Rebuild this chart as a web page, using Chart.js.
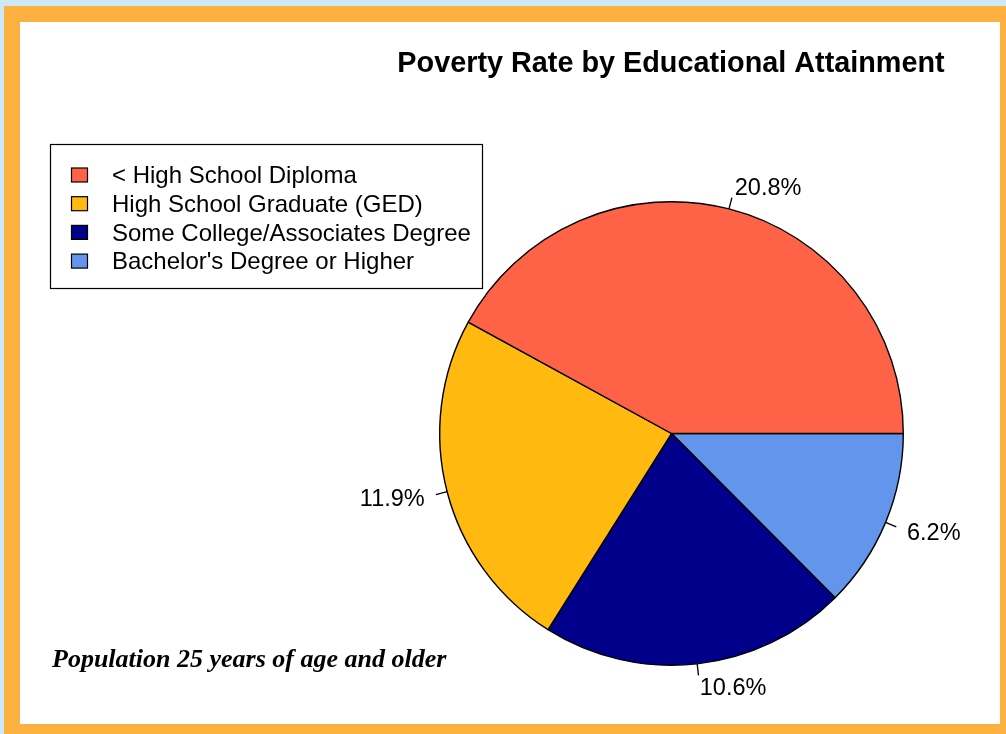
<!DOCTYPE html>
<html>
<head>
<meta charset="utf-8">
<title>Poverty Rate by Educational Attainment</title>
<script src="https://cdn.jsdelivr.net/npm/chart.js@4.4.1/dist/chart.umd.min.js"></script>
<style>
  html, body {
    margin: 0;
    padding: 0;
    background: #cde9f9;
    width: 1006px;
    height: 734px;
    overflow: hidden;
  }
  #frame {
    position: absolute;
    left: 4px;
    top: 6px;
    width: 1002px;
    height: 728px;
    background: #fbb040;
  }
  #panel {
    position: absolute;
    left: 16px;
    top: 16px;
    width: 980px;
    height: 702px;
    background: #ffffff;
  }
</style>
</head>
<body>
<div id="frame">
  <div id="panel">
    <canvas id="povertyChart" width="980" height="702"></canvas>
  </div>
</div>
<script>
const categories = [
  "< High School Diploma",
  "High School Graduate (GED)",
  "Some College/Associates Degree",
  "Bachelor's Degree or Higher",
];
const povertyRates = [20.8, 11.9, 10.6, 6.2];
const sliceColors = ["#ff6347", "#ffb90f", "#00008b", "#6495ed"];

const chartTitle = "Poverty Rate by Educational Attainment";
const footnote = "Population 25 years of age and older";

// slices run counter-clockwise from 3 o'clock, so feed them to chart.js reversed
const drawOrder = povertyRates.map((_, i) => povertyRates.length - 1 - i);

const sansFont = "'Liberation Sans', Arial, Helvetica, sans-serif";
const serifFont = "'Liberation Serif', 'Times New Roman', serif";

// percent labels outside the pie with a short tick
const sliceLabels = {
  id: "sliceLabels",
  afterDatasetsDraw(chart) {
    const ctx = chart.ctx;
    const arcs = chart.getDatasetMeta(0).data;
    ctx.save();
    ctx.font = "23.5px " + sansFont;
    ctx.fillStyle = "#000";
    ctx.strokeStyle = "#000";
    ctx.lineWidth = 1.3;
    ctx.textBaseline = "middle";
    arcs.forEach((arc, i) => {
      const { x, y, startAngle, endAngle, outerRadius } = arc.getProps(
        ["x", "y", "startAngle", "endAngle", "outerRadius"],
        true
      );
      const mid = (startAngle + endAngle) / 2;
      const cos = Math.cos(mid),
        sin = Math.sin(mid);
      ctx.beginPath();
      ctx.moveTo(x + cos * outerRadius, y + sin * outerRadius);
      ctx.lineTo(x + cos * outerRadius * 1.05, y + sin * outerRadius * 1.05);
      ctx.stroke();
      ctx.textAlign = cos < 0 ? "right" : "left";
      const value = chart.data.datasets[0].data[i];
      ctx.fillText(
        value.toFixed(1) + "%",
        x + cos * outerRadius * 1.1,
        y + sin * outerRadius * 1.1 + 2
      );
    });
    ctx.restore();
  },
};

// boxed legend in the top left corner, title and footnote
const decorations = {
  id: "decorations",
  afterDraw(chart) {
    const ctx = chart.ctx;
    ctx.save();

    ctx.fillStyle = "#000";
    ctx.font = "bold 28.8px " + sansFont;
    ctx.textAlign = "center";
    ctx.textBaseline = "middle";
    ctx.fillText(chartTitle, 651, 42);

    ctx.font = "bold italic 26px " + serifFont;
    ctx.textAlign = "left";
    ctx.fillText(footnote, 32, 638);

    ctx.lineWidth = 1.2;
    ctx.strokeStyle = "#000";
    ctx.strokeRect(30.5, 122.5, 432, 144);

    ctx.font = "24px " + sansFont;
    categories.forEach((name, i) => {
      const rowY = 153 + i * 28.7;
      ctx.fillStyle = sliceColors[i];
      ctx.fillRect(51.5, rowY - 7, 16, 14);
      ctx.strokeRect(51.5, rowY - 7, 16, 14);
      ctx.fillStyle = "#000";
      ctx.fillText(name, 92, rowY + 1.5);
    });

    ctx.restore();
  },
};

new Chart(document.getElementById("povertyChart"), {
  type: "pie",
  data: {
    labels: drawOrder.map((i) => categories[i]),
    datasets: [
      {
        data: drawOrder.map((i) => povertyRates[i]),
        backgroundColor: drawOrder.map((i) => sliceColors[i]),
        borderColor: "#000",
        borderWidth: 1.4,
        hoverOffset: 0,
        hoverBorderWidth: 1.4,
      },
    ],
  },
  options: {
    responsive: false,
    animation: false,
    events: [],
    rotation: 90,
    layout: {
      padding: { left: 419, right: 96, top: 179, bottom: 58 },
    },
    plugins: {
      legend: { display: false },
      tooltip: { enabled: false },
    },
  },
  plugins: [sliceLabels, decorations],
});
</script>
</body>
</html>
